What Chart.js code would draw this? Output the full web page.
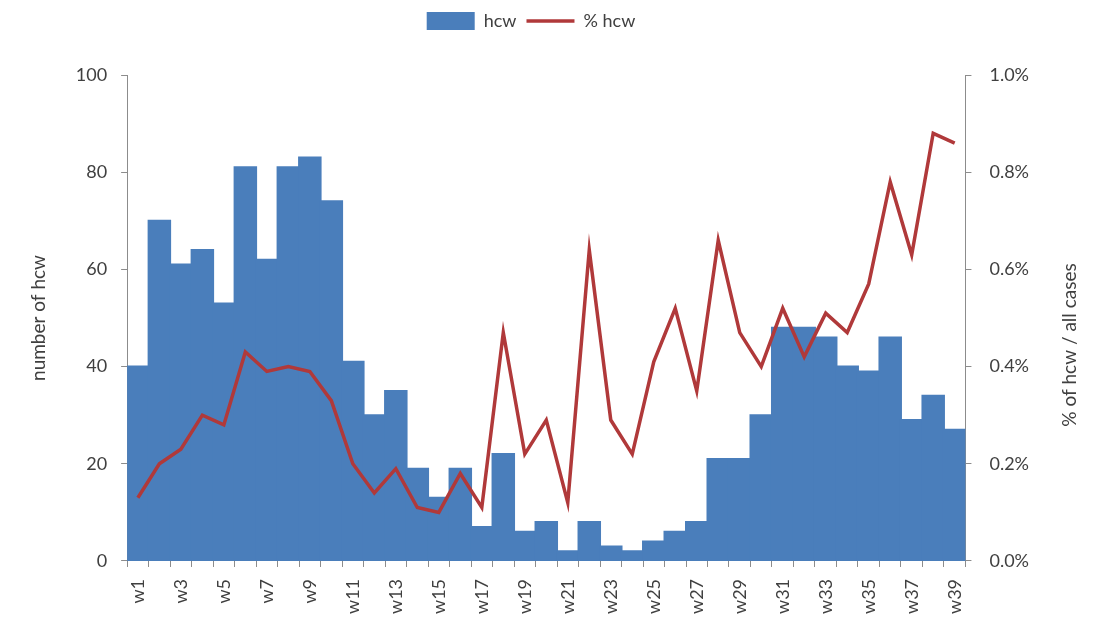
<!DOCTYPE html>
<html>
<head>
<meta charset="utf-8">
<script src="https://cdn.jsdelivr.net/npm/chart.js@4.4.1/dist/chart.umd.min.js"></script>
<style>
  html, body { margin: 0; padding: 0; background: #fff; }
  #wrap { width: 1094px; height: 630px; }
</style>
</head>
<body>
<div id="wrap"><canvas id="chart" width="1094" height="630"></canvas></div>
<script>
// weeks w1..w39
const weeks = ['w1','w2','w3','w4','w5','w6','w7','w8','w9','w10','w11','w12','w13','w14','w15','w16','w17','w18','w19','w20',
  'w21','w22','w23','w24','w25','w26','w27','w28','w29','w30','w31','w32','w33','w34','w35','w36','w37','w38','w39'];

// number of hcw per week
const hcw = [40, 70, 61, 64, 53, 81, 62, 81, 83, 74, 41, 30, 35, 19, 13, 19, 7, 22, 6, 8,
  2, 8, 3, 2, 4, 6, 8, 21, 21, 30, 48, 48, 46, 40, 39, 46, 29, 34, 27];

// % of hcw / all cases (as fraction)
const pctHcw = [0.0013, 0.0020, 0.0023, 0.0030, 0.0028, 0.0043, 0.0039, 0.0040, 0.0039, 0.0033, 0.0020, 0.0014, 0.0019, 0.0011, 0.0010, 0.0018, 0.0011, 0.0047, 0.0022, 0.0029,
  0.0012, 0.0064, 0.0029, 0.0022, 0.0041, 0.0052, 0.0035, 0.0066, 0.0047, 0.0040, 0.0052, 0.0042, 0.0051, 0.0047, 0.0057, 0.0078, 0.0063, 0.0088, 0.0086];

const leftTicks = [0, 20, 40, 60, 80, 100];
const rightTitle = '% of hcw / all cases';

const axisColor = '#8c8c8c';
const textColor = '#404040';
const fontFamily = 'Lato, "Liberation Sans", sans-serif';

// push the plot down under the legend
const legendSpace = {
  id: 'legendSpace',
  beforeInit(chart) {
    const fit = chart.legend.fit;
    chart.legend.fit = function () {
      fit.bind(chart.legend)();
      this.height += 35;
    };
  }
};

// right axis title, reading bottom to top like the original
const rightTitlePlugin = {
  id: 'rightTitle',
  afterDraw(chart) {
    const c = chart.ctx;
    c.save();
    c.translate(1070, 345);
    c.rotate(-Math.PI / 2);
    c.fillStyle = textColor;
    c.font = '19px ' + fontFamily;
    c.textAlign = 'center';
    c.textBaseline = 'middle';
    c.fillText(rightTitle, 0, 0);
    c.restore();
  }
};

const ctx = document.getElementById('chart').getContext('2d');
new Chart(ctx, {
  type: 'bar',
  data: {
    labels: weeks,
    datasets: [
      {
        type: 'bar',
        label: 'hcw',
        data: hcw,
        backgroundColor: '#4a7ebb',
        borderWidth: 0,
        inflateAmount: 1,
        barPercentage: 1.0,
        categoryPercentage: 1.0,
        yAxisID: 'y',
        order: 1,
        pointStyle: 'rect'
      },
      {
        type: 'line',
        label: '% hcw',
        data: pctHcw,
        borderColor: '#b0393a',
        backgroundColor: '#b0393a',
        borderWidth: 3.5,
        pointRadius: 0,
        tension: 0,
        yAxisID: 'y1',
        order: 0,
        pointStyle: 'line'
      }
    ]
  },
  options: {
    responsive: false,
    animation: false,
    layout: { padding: { left: 15, right: 47, top: 2, bottom: 4 } },
    plugins: {
      legend: {
        position: 'top',
        labels: {
          usePointStyle: true,
          pointStyleWidth: 48,
          color: textColor,
          font: { family: fontFamily, size: 18 },
          padding: 10,
          sort: (a, b) => a.datasetIndex - b.datasetIndex
        }
      },
      tooltip: { enabled: false }
    },
    scales: {
      x: {
        offset: true,
        grid: { drawOnChartArea: false, drawTicks: true, tickLength: 6, color: axisColor, offset: true },
        border: { color: axisColor },
        ticks: {
          color: textColor,
          font: { family: fontFamily, size: 18 },
          autoSkip: false,
          maxRotation: 90,
          minRotation: 90,
          padding: 12,
          callback: function (val, i) { return i % 2 === 0 ? weeks[i] : ''; }
        }
      },
      y: {
        position: 'left',
        min: 0,
        max: 100,
        afterBuildTicks: (axis) => { axis.ticks = leftTicks.map(v => ({ value: v })); },
        grid: { drawOnChartArea: false, drawTicks: true, tickLength: 6, color: axisColor },
        border: { color: axisColor },
        ticks: { color: textColor, font: { family: fontFamily, size: 18 }, padding: 14 },
        title: { display: true, text: 'number of hcw', color: textColor, font: { family: fontFamily, size: 19 }, padding: 12 }
      },
      y1: {
        position: 'right',
        min: 0,
        max: 0.01,
        grid: { drawOnChartArea: false, drawTicks: true, tickLength: 6, color: axisColor },
        border: { color: axisColor },
        ticks: {
          stepSize: 0.002,
          color: textColor,
          font: { family: fontFamily, size: 18 },
          padding: 18,
          callback: (v) => (v * 100).toFixed(1) + '%'
        }
      }
    }
  },
  plugins: [legendSpace, rightTitlePlugin]
});
</script>
</body>
</html>
